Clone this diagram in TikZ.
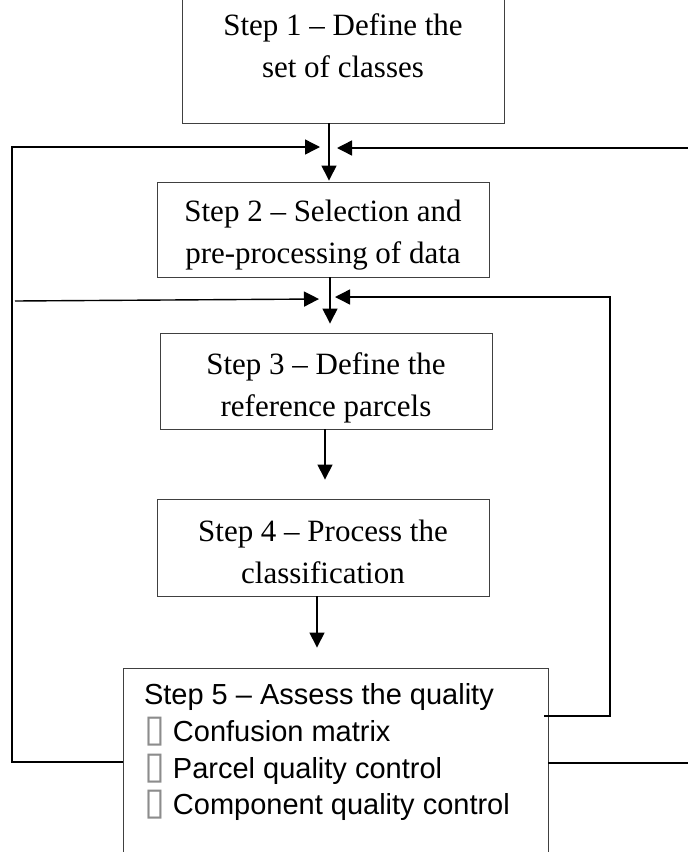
\documentclass[tikz,border=0pt]{standalone}
\usepackage{fontspec}
\setmainfont{Liberation Serif}
\newfontfamily\arialfont{Liberation Sans}
\newfontfamily\symfont{DejaVu Sans}
\usetikzlibrary{arrows.meta}

% box text: width, height, top pad, lines
\newcommand{\steptext}[4]{%
  \parbox[c][#2][t]{#1}{\vspace*{#3}\centering\fontsize{31}{42}\selectfont\strut #4}}
\newcommand{\itembox}{{\color{black!45}\symfont\fontsize{38}{38}\selectfont ▯}}

\tikzset{
  stepbox/.style={draw=black!75, line width=0.9pt, inner sep=0pt},
  flow/.style={line width=1.4pt, -{Triangle[length=15pt,width=15pt]}},
  feedback/.style={line width=1.4pt},
}

\begin{document}
\begin{tikzpicture}[x=1pt,y=-1pt]
        \useasboundingbox (0,0) rectangle (688,852);

        % Steps
        \node[stepbox] (s1) at (343,60.5) {\steptext{322pt}{125pt}{8pt}{Step 1 – Define the\\ set of classes}};
        \node[stepbox] (s2) at (323,229.5) {\steptext{332pt}{95pt}{9.6pt}{Step 2 – Selection and\\ pre-processing of data}};
        \node[stepbox] (s3) at (326,381) {\steptext{332pt}{96pt}{11.6pt}{Step 3 – Define the\\ reference parcels}};
        \node[stepbox] (s4) at (323,547.5) {\steptext{332pt}{97pt}{12.6pt}{Step 4 – Process the\\ classification}};
        \node[stepbox] (s5) at (335.5,769) {\parbox[c][202pt][t]{425pt}{\vspace*{11pt}\raggedright\leftskip=21pt
            \arialfont\fontsize{29}{36.7}\selectfont\strut Step 5 – Assess the quality\\
            \itembox\ Confusion matrix\\
            \itembox\ Parcel quality control\\
            \itembox\ Component quality control}};

        % Junctions and free ends
        \coordinate (jA) at (329,147);
        \coordinate (jB) at (330,299);
        \coordinate (jC) at (325,460);
        \coordinate (jD) at (317,620);
        \coordinate (inL1) at (320,147);
        \coordinate (inR1) at (337,148);
        \coordinate (outL2) at (15,301);
        \coordinate (inL2) at (319,299);
        \coordinate (inR2) at (335,297);

        % Main flow
        \draw[flow, shorten >=1pt] (s1.south -| jA) -- (s2.north -| jA);
        \draw[flow, shorten >=9pt] (s2.south -| jB) -- (s3.north -| jB);
        \draw[flow, shorten >=19pt] (s3.south -| jC) -- (s4.north -| jC);
        \draw[flow, shorten >=20pt] (s4.south -| jD) -- (s5.north -| jD);

        % Feedback loops
        \draw[flow] (s5.west |- 0,762) -| (12,147) -- (inL1);
        \draw[flow] (s5.east |- 0,763) -| (690,148) -- (inR1);
        \draw[flow] (outL2) -- (inL2);
        \draw[flow] ([xshift=-4pt]s5.east |- 0,716) -| (610,297) -- (inR2);
      \end{tikzpicture}
\end{document}
